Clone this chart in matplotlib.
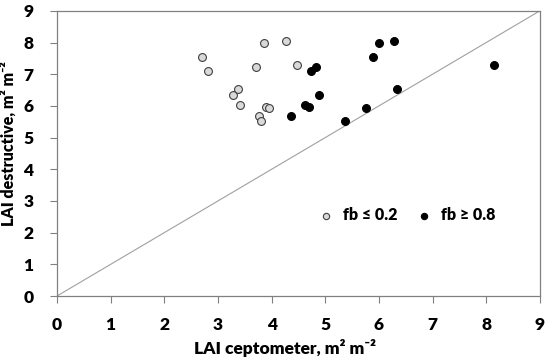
import matplotlib.pyplot as plt
import numpy as np

plt.rcParams['font.family'] = ['Lato', 'DejaVu Sans']
plt.rcParams['font.weight'] = 'bold'

# fb <= 0.2 (grey)
x_low = [2.71, 2.81, 3.28, 3.38, 3.41, 3.71, 3.76, 3.80, 3.85, 3.89, 3.95, 4.26, 4.47]
y_low = [7.53, 7.09, 6.35, 6.52, 6.04, 7.23, 5.67, 5.52, 7.97, 5.98, 5.93, 8.04, 7.30]

# fb >= 0.8 (black)
x_high = [4.36, 4.63, 4.69, 4.73, 4.83, 4.88, 5.36, 5.76, 5.89, 6.01, 6.29, 6.34, 8.14]
y_high = [5.67, 6.04, 5.98, 7.09, 7.23, 6.35, 5.51, 5.92, 7.53, 7.97, 8.04, 6.52, 7.30]

ticks = np.arange(0, 10)

fig = plt.figure(figsize=(5.5, 3.61), dpi=100)
ax = fig.add_axes([0.1036, 0.18, 0.878, 0.79])

ax.plot([0, 9], [0, 9], color="#a0a0a0", lw=0.8, zorder=1)
ax.scatter(x_low, y_low, s=32, facecolor="#d9d9d9", edgecolor="#404040",
           linewidth=0.8, label="fb ≤ 0.2", zorder=3)
ax.scatter(x_high, y_high, s=32, facecolor="black", edgecolor="black",
           linewidth=0.8, label="fb ≥ 0.8", zorder=3)

ax.set_xlim(0, 9)
ax.set_ylim(0, 9)
ax.set_xticks(ticks)
ax.set_yticks(ticks)
ax.tick_params(direction="out", length=5, width=0.8, color="#808080",
               labelsize=12.5)
ax.tick_params(axis="x", pad=10)
ax.tick_params(axis="y", pad=12)
for lab in ax.get_xticklabels() + ax.get_yticklabels():
    lab.set_fontweight("heavy")
for sp in ax.spines.values():
    sp.set_color("#808080")
    sp.set_linewidth(0.9)

ax.set_xlabel("LAI ceptometer, m² m⁻²", fontsize=12.5, fontweight="heavy")
ax.xaxis.set_label_coords(0.472, -0.152)
ax.set_ylabel("LAI destructive, m² m⁻²", fontsize=11.5, fontweight="heavy")
ax.yaxis.set_label_coords(-0.084, 0.535)

leg = ax.legend(loc="center", bbox_to_anchor=(0.716, 0.285), ncol=2, frameon=False,
                fontsize=11.5, handletextpad=0.05, columnspacing=0.7, markerscale=0.8)
for t in leg.get_texts():
    t.set_fontweight("heavy")

fig.savefig("out.png", dpi=100)
